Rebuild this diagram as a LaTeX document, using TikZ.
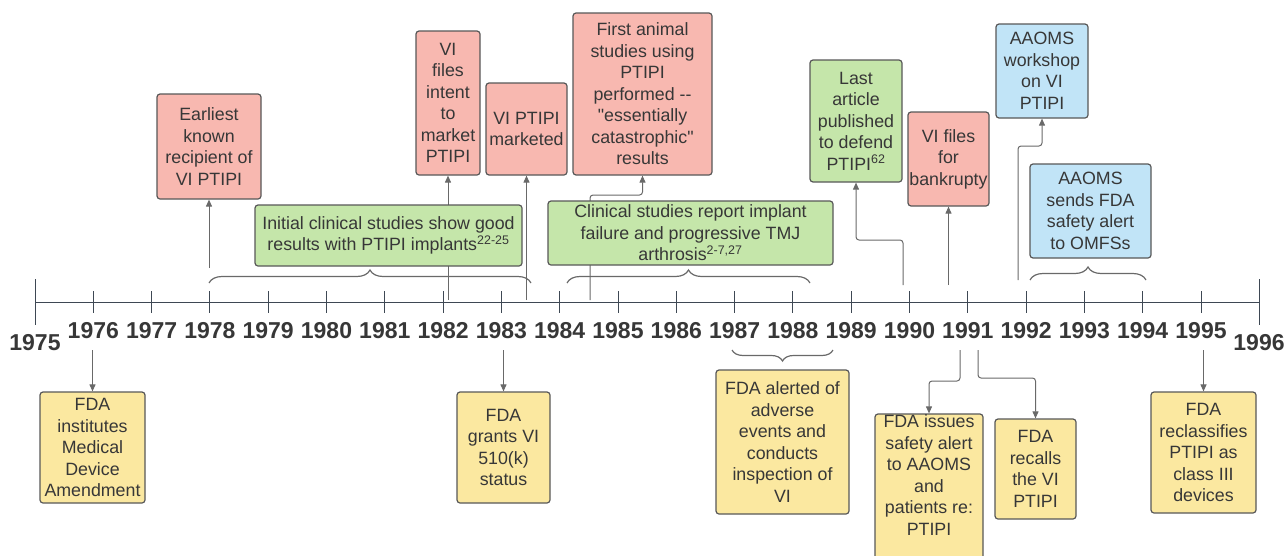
\documentclass[tikz,border=0pt]{standalone}
\usepackage{fontspec}
\setmainfont{Liberation Sans}[Ligatures=TeXOff]
\usetikzlibrary{arrows.meta,decorations.pathreplacing,backgrounds}

\definecolor{evred}{RGB}{248,184,176}
\definecolor{evgreen}{RGB}{197,230,170}
\definecolor{evblue}{RGB}{193,228,247}
\definecolor{evyellow}{RGB}{251,232,160}
\definecolor{boxgray}{RGB}{88,88,88}
\definecolor{arrgray}{RGB}{105,105,105}
\definecolor{axisgray}{RGB}{62,72,84}
\definecolor{txtgray}{RGB}{55,55,55}

\tikzset{
    evbox/.style={draw=boxgray, line width=1.2pt, rounded corners=3pt, align=center,
        text=txtgray, font=\fontsize{17.8}{21.5}\selectfont, inner sep=1pt},
    redbox/.style={evbox, fill=evred},
    greenbox/.style={evbox, fill=evgreen},
    bluebox/.style={evbox, fill=evblue},
    yellowbox/.style={evbox, fill=evyellow},
    arr/.style={draw=arrgray, line width=1pt, rounded corners=3pt, -{Triangle[length=7pt,width=6pt]}},
    brc/.style={draw=arrgray, line width=1.2pt, decorate, decoration={brace, amplitude=13pt}},
    axisline/.style={draw=axisgray, line width=1pt},
    yearlabel/.style={text=txtgray, font=\bfseries\fontsize{23}{25}\selectfont, inner sep=0pt},
}

\begin{document}
\begin{tikzpicture}[x=1pt, y=-1pt]

    \useasboundingbox (0,0) rectangle (1288,555);

    % Axis with ticks and years
    \draw[axisline] (35,302) -- (1259,302);
    \draw[axisline] (35,279) -- (35,325);
    \draw[axisline] (1259,279) -- (1259,325);
    \node[yearlabel] (y1975) at (35,343) {1975};
    \node[yearlabel] (y1996) at (1259,343) {1996};
    \foreach \i in {1,...,20} {
        \pgfmathsetmacro\xx{35+58.3*\i}
        \pgfmathtruncatemacro\yr{1975+\i}
        \draw[axisline] (\xx,291) -- (\xx,313);
        \node[yearlabel] (y\yr) at (\xx,331) {\yr};
    }

    % Events above the axis
    \node[redbox, minimum width=104, minimum height=105] (earliest) at (209,146.5)
        {Earliest\\known\\recipient of\\VI PTIPI};
    \node[greenbox, minimum width=267, minimum height=61] (initial) at (388.5,235.5)
        {Initial clinical studies show good\\results with PTIPI implants\textsuperscript{22-25}};
    \node[redbox, minimum width=64, minimum height=144] (intent) at (448,103)
        {VI\\files\\intent\\to\\market\\PTIPI};
    \node[redbox, minimum width=81, minimum height=92] (marketed) at (526.5,129)
        {VI PTIPI\\marketed};
    \node[redbox, minimum width=139, minimum height=162] (animal) at (642.5,94)
        {First animal\\studies using\\PTIPI\\performed --\\"essentially\\catastrophic"\\results};
    \node[greenbox, minimum width=285, minimum height=64] (report) at (690.5,233)
        {Clinical studies report implant\\failure and progressive TMJ\\arthrosis\textsuperscript{2-7,27}};
    \node[greenbox, minimum width=92, minimum height=122] (lastart) at (856,121)
        {Last\\article\\published\\to defend\\PTIPI\textsuperscript{62}};
    \node[redbox, minimum width=81, minimum height=94] (bankrupt) at (948.5,159)
        {VI files\\for\\bankrupty};
    \node[bluebox, minimum width=92, minimum height=94] (workshop) at (1042,71)
        {AAOMS\\workshop\\on VI\\PTIPI};
    \node[bluebox, minimum width=121, minimum height=94] (sends) at (1090.5,211)
        {AAOMS\\sends FDA\\safety alert\\to OMFSs};

    % Events below the axis
    \node[yellowbox, minimum width=105, minimum height=111] (institutes) at (92.5,447.5)
        {FDA\\institutes\\Medical\\Device\\Amendment};
    \node[yellowbox, minimum width=93, minimum height=111] (grants) at (503.5,447.5)
        {FDA\\grants VI\\510(k)\\status};
    \node[yellowbox, minimum width=133, minimum height=144] (alerted) at (782.5,442)
        {FDA alerted of\\adverse\\events and\\conducts\\inspection of\\VI};
    \node[yellowbox, minimum width=108, minimum height=156] (issues) at (929,492)
        {FDA issues\\safety alert\\to AAOMS\\and\\patients re:\\PTIPI\\[12pt]};
    \node[yellowbox, minimum width=81, minimum height=100] (recalls) at (1035.5,469)
        {FDA\\recalls\\the VI\\PTIPI};
    \node[yellowbox, minimum width=105, minimum height=121] (reclass) at (1203.5,452.5)
        {FDA\\reclassifies\\PTIPI as\\class III\\devices};

    % Start points of the connectors
    \coordinate (t1978) at (209,268);
    \coordinate (t1982) at (448,300);
    \coordinate (t1983) at (526.5,300);
    \coordinate (t1984) at (590,300);
    \coordinate (t1990) at (903,285);
    \coordinate (t1991) at (948.5,285);
    \coordinate (t1992) at (1018,280);
    \coordinate (b1976) at (92.5,350);
    \coordinate (b1983) at (503.5,350);
    \coordinate (b1991a) at (960,350);
    \coordinate (b1991b) at (978,350);
    \coordinate (b1995) at (1203.5,350);

    \begin{scope}[on background layer]
        \draw[arr] (t1978) -- (earliest.south);
        \draw[arr] (t1982) -- (intent.south);
        \draw[arr] (t1983) -- (marketed.south);
        \draw[arr] (t1984) -- ++(0,-105) -| (animal.south);
        \draw[arr] (t1990) -- ++(0,-45) -| (lastart.south);
        \draw[arr] (t1991) -- (bankrupt.south);
        \draw[arr] (t1992) -- ++(0,-134) -| (workshop.south);
        \draw[arr] (b1976) -- (institutes.north);
        \draw[arr] (b1983) -- (grants.north);
        \draw[arr] (b1991a) -- ++(0,31) -| (issues.north);
        \draw[arr] (b1991b) -- ++(0,28) -| (recalls.north);
        \draw[arr] (b1995) -- (reclass.north);
    \end{scope}

    % Braces for the periods
    \draw[brc] (209,283) -- (531,283);
    \draw[brc] (567,283) -- (810,283);
    \draw[brc] (1030,280) -- (1146,280);
    \draw[brc, decoration={amplitude=11pt}] (833,350) -- (732,350);

\end{tikzpicture}
\end{document}
